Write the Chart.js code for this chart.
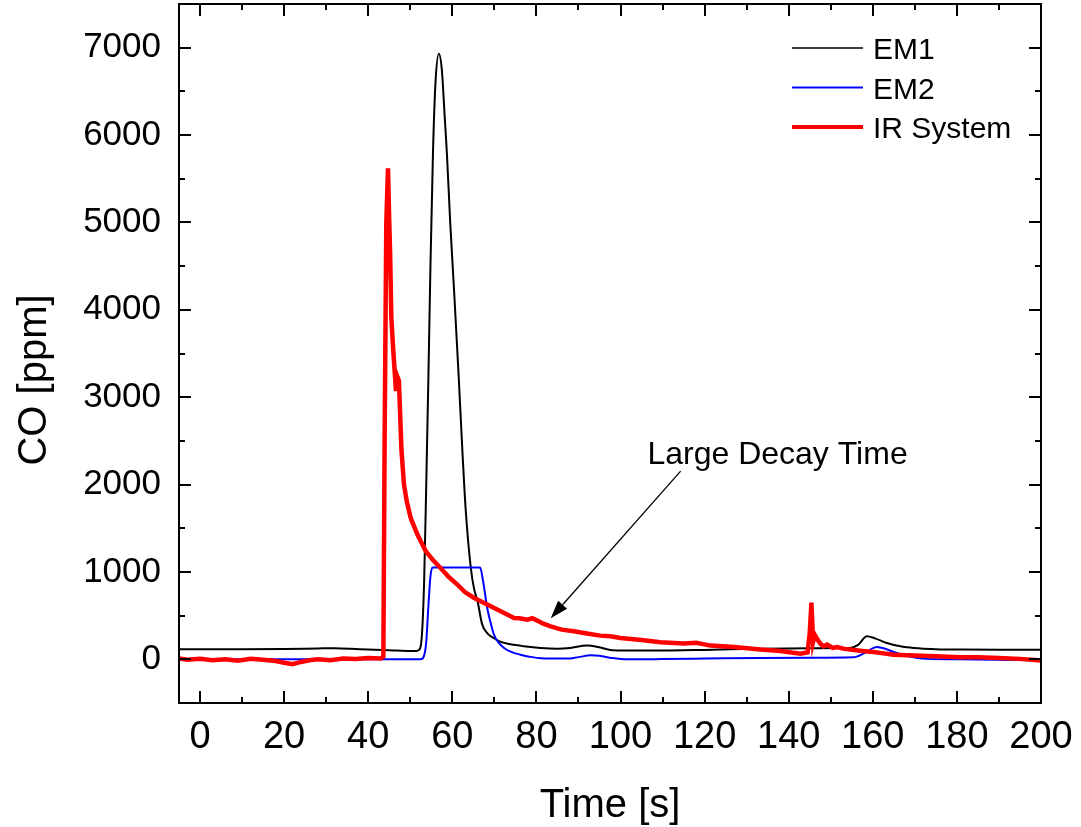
<!DOCTYPE html>
<html><head><meta charset="utf-8">
<script src="https://cdn.jsdelivr.net/npm/chart.js@4.4.0/dist/chart.umd.min.js"></script>
<style>html,body{margin:0;padding:0;background:#fff;}canvas{display:block;}</style>
</head><body>
<canvas id="c" width="1081" height="827"></canvas>
<script>
// ---- data ----
const xTicks = [0, 20, 40, 60, 80, 100, 120, 140, 160, 180, 200];
const xMinorTicks = [10, 30, 50, 70, 90, 110, 130, 150, 170, 190];
const yTicks = [0, 1000, 2000, 3000, 4000, 5000, 6000, 7000];
const yMinorTicks = [500, 1500, 2500, 3500, 4500, 5500, 6500];

const seriesNames = ['EM1', 'EM2', 'IR System'];

const em1Time = [-5, 0, 10, 20, 28, 32, 38, 45, 50, 51.5, 52.3, 52.8, 53.3, 53.8, 54.3, 54.8, 55.4, 56.0, 56.8, 57.5, 58.2, 58.7, 59.5, 60.5, 61.5, 62.4, 63.2, 64.4, 65.2, 66.0, 67.1, 68.3, 69.8, 71.5, 73.9, 77, 81, 85, 88, 92, 95.2, 98, 105, 110, 120, 133, 145, 154.6, 156.5, 158.6, 160.5, 163.3, 166, 168.1, 172, 180.8, 190, 200];
const em1Co   = [115, 115, 115, 118, 125, 128, 115, 105, 95, 95, 120, 300, 900, 2000, 3200, 4500, 5800, 6600, 6930, 6750, 6200, 5800, 5000, 4150, 3250, 2380, 1700, 1045, 800, 664, 400, 300, 244, 200, 172, 150, 130, 122, 130, 157, 135, 105, 100, 100, 108, 122, 128, 130, 165, 263, 240, 187, 155, 137, 122, 111, 110, 110];

const em2Time = [-5, 40, 52.5, 53.2, 53.8, 54.3, 54.8, 55.3, 66.6, 67.3, 68.3, 69.1, 69.9, 71, 72.3, 74, 76.2, 79, 82.6, 87.4, 90, 92.9, 95, 98, 101.6, 110, 120, 133, 145, 155.4, 158, 161, 163, 164.9, 168, 172.8, 180, 200];
const em2Co   = [0, 0, 0, 30, 200, 600, 950, 1050, 1050, 900, 587, 420, 283, 190, 130, 85, 53, 25, 8, 8, 25, 46, 40, 15, 0, 3, 8, 15, 18, 23, 70, 141, 120, 84, 40, 5, 0, -10];

const irTime = [-5, -3, 0, 3, 6, 9, 12, 15, 18, 20, 22, 24, 26, 28, 31, 34, 37, 40, 43, 43.6, 43.9, 44.3, 44.7, 45.0, 45.2, 45.5, 46.0, 46.4, 46.6, 46.9, 47.3, 47.9, 48.5, 49.2, 50.1, 51.7, 53.7, 55.5, 57.2, 59, 61.2, 63, 65.2, 68.3, 71.5, 74.7, 76, 77.8, 79, 80.2, 81.5, 83.4, 86, 88.9, 92, 95.2, 97.6, 100, 105, 109.5, 115, 118, 121.4, 127, 133.3, 138, 142.8, 144.5, 145.0, 145.4, 145.8, 146.2, 146.7, 147.5, 148.3, 149.1, 150.5, 151.5, 153, 155, 157, 160, 164.9, 170, 175, 180.8, 185, 190, 195, 200];
const irCo   = [10, -5, 5, -10, 0, -15, 5, -5, -20, -40, -55, -30, -10, 0, -10, 10, 5, 15, 10, 30, 2500, 5000, 5620, 5000, 4672, 3908, 3500, 3221, 3070, 3240, 3190, 2400, 2000, 1800, 1618, 1428, 1237, 1130, 1045, 950, 855, 770, 702, 626, 550, 473, 470, 454, 470, 443, 410, 378, 340, 321, 295, 271, 263, 245, 220, 195, 180, 190, 157, 140, 111, 95, 65, 80, 300, 650, 200, 280, 237, 180, 149, 168, 130, 140, 122, 110, 99, 85, 53, 45, 35, 23, 25, 15, 5, -15];

// annotation (data coordinates)
const noteText = 'Large Decay Time';
const noteTextAt = [106.4, 2233];
const arrowFrom = [114.3, 2153];
const arrowTo = [83.4, 470];

const toXY = (xs, ys) => xs.map((x, i) => ({x: x, y: ys[i]}));
const FONT = "'Liberation Sans', Arial, Helvetica, sans-serif";

const framePlugin = {
  id: 'frameTicks',
  afterDatasetsDraw(chart) {
    const {ctx, chartArea: a, scales: {x, y}} = chart;
    ctx.save();
    ctx.strokeStyle = '#000';
    ctx.lineWidth = 2;
    ctx.beginPath();
    const vx = (vals, len) => vals.forEach(v => {
      const p = Math.round(x.getPixelForValue(v));
      ctx.moveTo(p, a.bottom); ctx.lineTo(p, a.bottom - len);
      ctx.moveTo(p, a.top); ctx.lineTo(p, a.top + len);
    });
    const vy = (vals, len) => vals.forEach(v => {
      const p = Math.round(y.getPixelForValue(v));
      ctx.moveTo(a.left, p); ctx.lineTo(a.left + len, p);
      ctx.moveTo(a.right, p); ctx.lineTo(a.right - len, p);
    });
    vx(xTicks, 12); vx(xMinorTicks, 6);
    vy(yTicks, 12); vy(yMinorTicks, 6);
    ctx.stroke();
    ctx.strokeRect(a.left, a.top, a.right - a.left, a.bottom - a.top);

    // annotation
    const fx = x.getPixelForValue(arrowFrom[0]), fy = y.getPixelForValue(arrowFrom[1]);
    const tx = x.getPixelForValue(arrowTo[0]), ty = y.getPixelForValue(arrowTo[1]);
    const ang = Math.atan2(ty - fy, tx - fx);
    const hl = 18, hw = 6;
    const bx = tx - hl * Math.cos(ang), by = ty - hl * Math.sin(ang);
    ctx.lineWidth = 1.3;
    ctx.beginPath(); ctx.moveTo(fx, fy); ctx.lineTo(bx, by); ctx.stroke();
    ctx.fillStyle = '#000';
    ctx.beginPath();
    ctx.moveTo(tx, ty);
    ctx.lineTo(bx + hw * Math.sin(ang), by - hw * Math.cos(ang));
    ctx.lineTo(bx - hw * Math.sin(ang), by + hw * Math.cos(ang));
    ctx.closePath(); ctx.fill();
    ctx.font = '32px ' + FONT;
    ctx.textAlign = 'left'; ctx.textBaseline = 'alphabetic';
    ctx.fillText(noteText, x.getPixelForValue(noteTextAt[0]), y.getPixelForValue(noteTextAt[1]));

    // axis titles
    ctx.font = '40px ' + FONT;
    ctx.textAlign = 'center';
    ctx.fillText('Time [s]', (a.left + a.right) / 2, 817);
    ctx.save();
    ctx.translate(46, 380);
    ctx.rotate(-Math.PI / 2);
    ctx.fillText('CO [ppm]', 0, 0);
    ctx.restore();

    // legend
    ctx.font = '30px ' + FONT;
    ctx.textAlign = 'left';
    chart.data.datasets.forEach((ds, i) => {
      const ly = 48 + i * 39.5;
      ctx.strokeStyle = ds.borderColor;
      ctx.lineWidth = ds.legendWidth;
      ctx.beginPath(); ctx.moveTo(792, ly); ctx.lineTo(863, ly); ctx.stroke();
      ctx.fillText(ds.label, 873, ly + 11);
    });
    ctx.restore();
  }
};

new Chart(document.getElementById('c'), {
  type: 'line',
  data: {
    datasets: [
      {label: seriesNames[0], data: toXY(em1Time, em1Co), borderColor: '#000000', borderWidth: 2, legendWidth: 1.6, pointRadius: 0, cubicInterpolationMode: 'monotone', order: 2},
      {label: seriesNames[1], data: toXY(em2Time, em2Co), borderColor: '#0000ff', borderWidth: 2, legendWidth: 2, pointRadius: 0, cubicInterpolationMode: 'monotone', order: 1},
      {label: seriesNames[2], data: toXY(irTime, irCo), borderColor: '#ff0000', borderWidth: 4.5, legendWidth: 4, pointRadius: 0, tension: 0, order: 0}
    ]
  },
  options: {
    responsive: false,
    animation: false,
    events: [],
    layout: {autoPadding: false, padding: {left: 0, right: 40, top: 4, bottom: 0}},
    plugins: {legend: {display: false}, tooltip: {enabled: false}},
    scales: {
      x: {
        type: 'linear', min: -5, max: 200,
        grid: {display: false, drawTicks: false},
        border: {display: false},
        afterBuildTicks: s => { s.ticks = xTicks.map(v => ({value: v})); },
        afterFit: s => { s.height = 124; s.paddingLeft = 0; s.paddingRight = 0; },
        ticks: {color: '#000', font: {size: 38, family: FONT}, padding: 12, maxRotation: 0, autoSkip: false, callback: v => String(v)}
      },
      y: {
        type: 'linear', min: -500, max: 7500,
        grid: {display: false, drawTicks: false},
        border: {display: false},
        afterBuildTicks: s => { s.ticks = yTicks.map(v => ({value: v})); },
        afterFit: s => { s.width = 179; s.paddingTop = 0; s.paddingBottom = 0; },
        ticks: {color: '#000', font: {size: 35, family: FONT}, padding: 18, autoSkip: false, callback: v => String(v)}
      }
    }
  },
  plugins: [framePlugin]
});
</script>
</body></html>
